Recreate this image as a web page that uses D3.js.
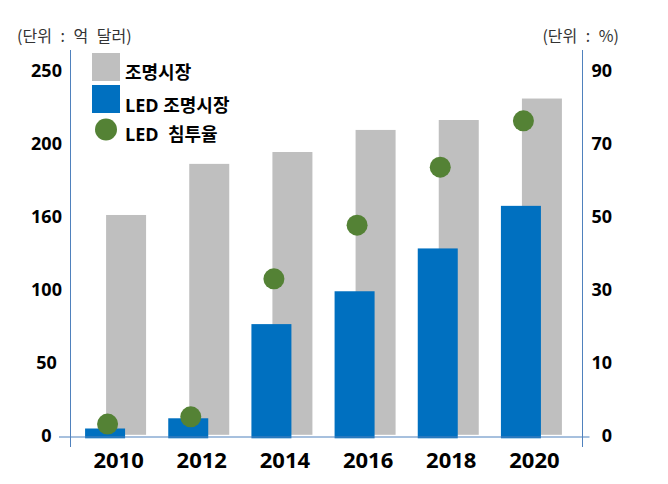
<!DOCTYPE html>
<html><head><meta charset="utf-8">
<script src="https://cdn.jsdelivr.net/npm/d3@7/dist/d3.min.js"></script>
<style>
body{margin:0;background:#fff;}
text{font-family:"Noto Sans CJK KR","Noto Sans",sans-serif;}
</style></head>
<body><svg id="c" width="668" height="484"></svg>
<script>
const years = ["2010","2012","2014","2016","2018","2020"];
const lightingMarket = [161, 189, 195.5, 209.5, 216.3, 231];   // 조명시장 (억 달러)
const ledMarket = [5, 12, 76.5, 99, 134, 166];                 // LED 조명시장 (억 달러)
const ledPenetration = [1.6, 2.6, 33, 47.7, 63.6, 76.3];       // LED 침투율 (%)
const leftTicks = [0, 50, 100, 160, 200, 250];
const rightTicks = [0, 10, 30, 50, 70, 90];
const legendLabels = ["조명시장", "LED 조명시장", "LED  침투율"];
const leftUnit = "(단위 : 억 달러)";
const rightUnit = "(단위 : %)";

const svg = d3.select("#c");
const yTop = 70.8, yBot = 435.8;
const evenRange = d => d3.range(d.length).map(i => yBot - i * (yBot - yTop) / (d.length - 1));
const yL = d3.scaleLinear().domain(leftTicks).range(evenRange(leftTicks));
const yR = d3.scaleLinear().domain(rightTicks).range(evenRange(rightTicks));
const x = d3.scaleBand().domain(years).range([74, 573]).padding(0);

const GRAY = "#bfbfbf", BLUE = "#0070c0", GREEN = "#548235", AX = "#4f81bd";
const bw = 40;
const NUMFONT = "'Noto Sans','Noto Sans CJK KR',sans-serif";
const LEGFONT = "'Open Sans','Noto Sans CJK KR',sans-serif";

// gray bars
svg.append("g").selectAll("rect").data(years).join("rect")
  .attr("x", d => x(d) + x.bandwidth()/2 - 9.5)
  .attr("width", bw)
  .attr("y", (d,i) => yL(lightingMarket[i]))
  .attr("height", (d,i) => yL(0) - 1 - yL(lightingMarket[i]))
  .attr("fill", GRAY);

// blue bars
svg.append("g").selectAll("rect").data(years).join("rect")
  .attr("x", d => x(d) + x.bandwidth()/2 - 30.5)
  .attr("width", bw)
  .attr("y", (d,i) => yL(ledMarket[i]))
  .attr("height", (d,i) => yL(0) + 2.5 - yL(ledMarket[i]))
  .attr("fill", BLUE);

// axes lines
const axG = svg.append("g").attr("stroke", AX).attr("stroke-width", 1).attr("fill","none");
axG.append("line").attr("x1", 70.5).attr("x2", 70.5).attr("y1", 50).attr("y2", 447);
axG.append("line").attr("x1", 582.5).attr("x2", 582.5).attr("y1", 50).attr("y2", 447);
axG.append("line").attr("x1", 59).attr("x2", 589.5).attr("y1", yL(0)+1.2).attr("y2", yL(0)+1.2);

// dots
svg.append("g").selectAll("circle").data(years).join("circle")
  .attr("cx", d => x(d) + x.bandwidth()/2 - 8)
  .attr("cy", (d,i) => yR(ledPenetration[i]))
  .attr("r", 10.5)
  .attr("fill", GREEN);

// left axis labels
const la = d3.axisLeft(yL).tickValues(leftTicks).tickSize(0).tickFormat(d3.format("d"));
const gl = svg.append("g").attr("transform", "translate(46.5,0)").call(la);
gl.select(".domain").remove();
gl.selectAll("text").attr("x", 0).attr("text-anchor", "middle")
  .attr("font-size", 18).attr("font-weight", "bold").attr("fill", "#000")
  .style("font-family", NUMFONT);

// right axis labels
const ra = d3.axisRight(yR).tickValues(rightTicks).tickSize(0).tickFormat(d3.format("d"));
const gr = svg.append("g").attr("transform", "translate(612,0)").call(ra);
gr.select(".domain").remove();
gr.selectAll("text").attr("x", 0).attr("text-anchor", "end")
  .attr("font-size", 18).attr("font-weight", "bold").attr("fill", "#000")
  .style("font-family", NUMFONT);

// x labels
const xa = d3.axisBottom(x).tickSize(0);
const gx = svg.append("g").attr("transform", "translate(3,449)").call(xa);
gx.select(".domain").remove();
gx.selectAll("text").attr("dy", "0.71em")
  .attr("font-size", 22).attr("font-weight", "bold").attr("fill", "#000")
  .style("font-family", NUMFONT);

// units
svg.append("text").attr("x", 17).attr("y", 42).attr("font-size", 16).attr("fill", "#333")
  .attr("word-spacing", 5).style("white-space","pre").text(leftUnit);
svg.append("text").attr("x", 619).attr("y", 42).attr("font-size", 16).attr("fill", "#333")
  .attr("word-spacing", 5).attr("text-anchor","end").text(rightUnit);

// legend
const lg = svg.append("g");
lg.append("rect").attr("x", 92).attr("y", 53).attr("width", 28).attr("height", 28).attr("fill", GRAY);
lg.append("rect").attr("x", 92).attr("y", 85).attr("width", 28).attr("height", 28).attr("fill", BLUE);
lg.append("circle").attr("cx", 106).attr("cy", 129.5).attr("r", 11).attr("fill", GREEN);
const ly = [73, 106, 135];
lg.selectAll("text.l").data(legendLabels).join("text").attr("class","l")
  .attr("x", 125).attr("y", (d,i) => ly[i]).attr("dy", "0.36em")
  .attr("font-size", 18).attr("font-weight", "bold").attr("fill", "#000")
  .style("white-space","pre").style("font-family", LEGFONT)
  .text(d => d);
</script>
</body></html>
